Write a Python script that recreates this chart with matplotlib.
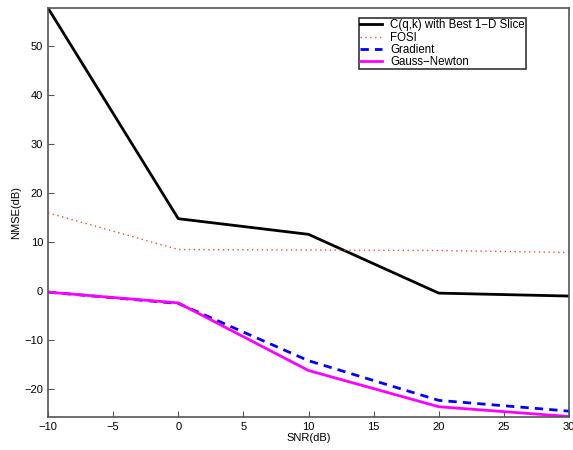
import matplotlib
matplotlib.use("Agg")
import matplotlib.pyplot as plt

snr = [-10, 0, 10, 20, 30]
cqk = [57.8, 14.8, 11.6, -0.4, -1.0]
fosi = [16.0, 8.5, 8.4, 8.3, 7.9]
gradient = [-0.2, -2.5, -14.2, -22.3, -24.5]
gauss_newton = [-0.2, -2.4, -16.2, -23.6, -25.6]
labels = ["C(q,k) with Best 1\u2212D Slice", "FOSI", "Gradient", "Gauss\u2212Newton"]

plt.rcParams['font.family'] = ['Liberation Sans', 'DejaVu Sans']
fig = plt.figure(figsize=(5.73, 4.5), dpi=100)
ax = fig.add_axes([0.0838, 0.0733, 0.9092, 0.9087])

ax.plot(snr, cqk, color='black', lw=2, label=labels[0])
ax.plot(snr, fosi, color='#ff4040', lw=1, linestyle=(0, (1, 2.5)), label=labels[1])
ax.plot(snr, gradient, color='blue', lw=2, linestyle=(0, (3, 2.2)), label=labels[2])
ax.plot(snr, gauss_newton, color='magenta', lw=2, label=labels[3])

ax.set_xlim(-10, 30)
ax.set_ylim(-25.7, 57.8)
ax.set_xticks(range(-10, 31, 5))
ax.set_yticks(range(-20, 51, 10))
ax.set_xticklabels([str(v).replace('-', '\u2212') for v in range(-10, 31, 5)])
ax.set_yticklabels([str(v).replace('-', '\u2212') for v in range(-20, 51, 10)])
ax.tick_params(direction='in', labelsize=8, length=4, color='#555555')
for s in ax.spines.values():
    s.set_color('#555555')
    s.set_linewidth(1.2)
ax.set_xlabel('SNR(dB)', fontsize=8, labelpad=1)
ax.set_ylabel('NMSE(dB)', fontsize=8, labelpad=2)

leg = ax.legend(loc='upper right', bbox_to_anchor=(526 / 573, 1 - 18 / 450),
                bbox_transform=fig.transFigure, fontsize=8.3,
                frameon=True, fancybox=False, edgecolor='black', borderpad=0.12,
                labelspacing=0.02, handlelength=1.9, handletextpad=0.7, borderaxespad=0)
leg.get_frame().set_linewidth(1.2)

fig.savefig('out.png', dpi=100)
